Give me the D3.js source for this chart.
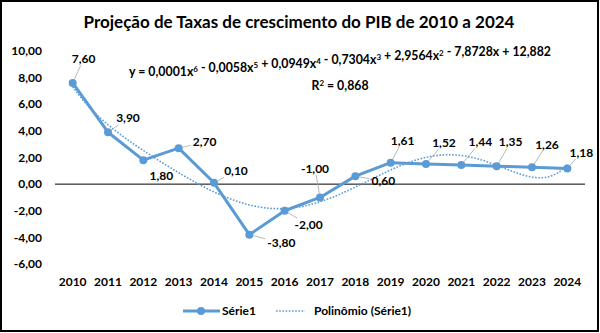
<!DOCTYPE html>
<html>
<head>
<meta charset="utf-8">
<script src="https://cdn.jsdelivr.net/npm/d3@7"></script>
<style>
  body { margin: 0; background: #fff; }
  svg { display: block; font-family: Lato, "Open Sans", sans-serif; font-weight: bold; }
</style>
</head>
<body>
<div id="chart"></div>
<script>
// growth rates per year
const years = ["2010", "2011", "2012", "2013", "2014", "2015", "2016", "2017",
  "2018", "2019", "2020", "2021", "2022", "2023", "2024"];
const values = [7.6, 3.9, 1.8, 2.7, 0.1, -3.8, -2.0, -1.0, 0.6, 1.61, 1.52, 1.44, 1.35, 1.26, 1.18];
const yTicks = [10, 8, 6, 4, 2, 0, -2, -4, -6];

const title = "Projeção de Taxas de crescimento do PIB de 2010 a 2024";
const seriesName = "Série1";
const trendName = "Polinômio (Série1)";
const trendDegree = 6;
// trendline equation as printed, [text, exponent]
const equationParts = [
  ["y = 0,0001x", "6"], [" - 0,0058x", "5"], [" + 0,0949x", "4"], [" - 0,7304x", "3"],
  [" + 2,9564x", "2"], [" - 7,8728x + 12,882", ""]
];
const rSquaredText = ["R", "2", " = 0,868"];

// where each value label sits relative to its point
const labelOffsets = [
  [11, -24], [20, -14], [18, 16], [26, -6], [22, -12], [32, 8], [24, 14], [-5, -29],
  [28, 5], [12, -22], [18, -21], [19, -23], [14, -24], [15, -23], [14, -16]
];
const noLeader = [2];

const W = 600, H = 333;
const margin = { top: 51, right: 15, bottom: 69, left: 55 };
const color = "#5B9BD5";

const pt = d3.formatLocale({ decimal: ",", thousands: ".", grouping: [3], currency: ["R$", ""], minus: "-" });
const fmt = pt.format(".2f");

const svg = d3.select("#chart").append("svg").attr("width", W).attr("height", H);

svg.append("rect")
  .attr("x", 1).attr("y", 1).attr("width", W - 3).attr("height", H - 3)
  .attr("fill", "#fff").attr("stroke", "#000").attr("stroke-width", 2);

svg.append("text")
  .attr("x", 299).attr("y", 28)
  .attr("text-anchor", "middle")
  .attr("font-size", 17)
  .attr("fill", "#000")
  .text(title);

const x = d3.scaleBand().domain(years).range([margin.left, W - margin.right]);
const y = d3.scaleLinear().domain([-6, 10]).range([H - margin.bottom, margin.top]);
const cx = (i) => x(years[i]) + x.bandwidth() / 2;

// y axis labels
svg.append("g").selectAll("text")
  .data(yTicks)
  .join("text")
  .attr("x", 42)
  .attr("y", (d) => y(d))
  .attr("dy", "0.35em")
  .attr("text-anchor", "end")
  .attr("font-size", 12)
  .text((d) => fmt(d));

// zero line
svg.append("line")
  .attr("x1", margin.left).attr("x2", W - margin.right)
  .attr("y1", y(0)).attr("y2", y(0))
  .attr("stroke", "#000").attr("stroke-width", 1);

// category labels
svg.append("g").selectAll("text")
  .data(years)
  .join("text")
  .attr("x", (d) => x(d) + x.bandwidth() / 2)
  .attr("y", 286)
  .attr("text-anchor", "middle")
  .attr("font-size", 12)
  .text((d) => d);

// least squares polynomial fit (x = 1..n, scaled for stability)
function polyFit(ys, deg) {
  const n = ys.length, mid = (n + 1) / 2, half = (n - 1) / 2;
  const M = d3.range(deg + 1).map(() => new Array(deg + 2).fill(0));
  ys.forEach((v, i) => {
    const t = (i + 1 - mid) / half;
    const pw = d3.range(deg + 1).map((k) => Math.pow(t, k));
    for (let r = 0; r <= deg; r++) {
      for (let c = 0; c <= deg; c++) M[r][c] += pw[r] * pw[c];
      M[r][deg + 1] += pw[r] * v;
    }
  });
  for (let c = 0; c <= deg; c++) {
    let p = c;
    for (let r = c + 1; r <= deg; r++) if (Math.abs(M[r][c]) > Math.abs(M[p][c])) p = r;
    [M[c], M[p]] = [M[p], M[c]];
    for (let r = 0; r <= deg; r++) {
      if (r === c) continue;
      const f = M[r][c] / M[c][c];
      for (let k = c; k <= deg + 1; k++) M[r][k] -= f * M[c][k];
    }
  }
  const coef = M.map((row, i) => row[deg + 1] / row[i]);
  return (xv) => {
    const t = (xv - mid) / half;
    return coef.reduce((s, a, k) => s + a * Math.pow(t, k), 0);
  };
}

const trend = polyFit(values, trendDegree);
const step = x.step();
const trendPts = d3.range(1, values.length + 0.001, 0.05).map((xv) => [
  cx(0) + (xv - 1) * step, y(trend(xv))
]);

svg.append("path")
  .datum(trendPts)
  .attr("d", d3.line().curve(d3.curveLinear))
  .attr("fill", "none")
  .attr("stroke", color)
  .attr("stroke-width", 1.6)
  .attr("stroke-dasharray", "1.6,1.6");

// main series
svg.append("path")
  .datum(values)
  .attr("d", d3.line().x((d, i) => cx(i)).y((d) => y(d)))
  .attr("fill", "none")
  .attr("stroke", color)
  .attr("stroke-width", 3)
  .attr("stroke-linejoin", "round");

svg.append("g").selectAll("circle")
  .data(values)
  .join("circle")
  .attr("cx", (d, i) => cx(i))
  .attr("cy", (d) => y(d))
  .attr("r", 4)
  .attr("fill", color);

// data labels with leader lines
const labels = svg.append("g");
values.forEach((v, i) => {
  const px = cx(i), py = y(v);
  const lx = px + labelOffsets[i][0], ly = py + labelOffsets[i][1];
  const txt = labels.append("text")
    .attr("x", lx).attr("y", ly)
    .attr("dy", "0.35em")
    .attr("text-anchor", "middle")
    .attr("font-size", 12)
    .text(fmt(v));
  if (noLeader.includes(i)) return;
  const bb = txt.node().getBBox();
  const hw = bb.width / 2 + 2, hh = bb.height / 2 - 1;
  const dx = px - lx, dy = py - ly;
  const s = Math.min(hw / Math.abs(dx || 1e-6), hh / Math.abs(dy || 1e-6));
  const ex = lx + dx * s, ey = ly + dy * s;
  const len = Math.hypot(ex - px, ey - py);
  if (len < 6) return;
  const sx = px + (ex - px) * 4 / len, sy = py + (ey - py) * 4 / len;
  labels.insert("line", "text")
    .attr("x1", sx).attr("y1", sy).attr("x2", ex).attr("y2", ey)
    .attr("stroke", "#a6a6a6").attr("stroke-width", 0.8);
});

// trendline equation
const eq = svg.append("text")
  .attr("x", 340).attr("y", 76)
  .attr("text-anchor", "middle")
  .attr("font-size", 12.3);
equationParts.forEach(([t, sup]) => {
  eq.append("tspan").text(t);
  if (sup) {
    eq.append("tspan").attr("font-size", 8).attr("dy", -4).text(sup);
    eq.append("tspan").attr("dy", 4).text("");
  }
});
const r2 = svg.append("text")
  .attr("x", 340).attr("y", 90)
  .attr("text-anchor", "middle")
  .attr("font-size", 12.3);
r2.append("tspan").text(rSquaredText[0]);
r2.append("tspan").attr("font-size", 8).attr("dy", -4).text(rSquaredText[1]);
r2.append("tspan").attr("dy", 4).text(rSquaredText[2]);

// legend
const lg = svg.append("g");
lg.append("line").attr("x1", 183).attr("x2", 220).attr("y1", 311).attr("y2", 311)
  .attr("stroke", color).attr("stroke-width", 3);
lg.append("circle").attr("cx", 201).attr("cy", 311).attr("r", 4).attr("fill", color);
lg.append("text").attr("x", 222).attr("y", 311).attr("dy", "0.35em")
  .attr("font-size", 12).text(seriesName);
lg.append("line").attr("x1", 276).attr("x2", 305).attr("y1", 311).attr("y2", 311)
  .attr("stroke", color).attr("stroke-width", 1.6).attr("stroke-dasharray", "1.6,1.6");
lg.append("text").attr("x", 314).attr("y", 311).attr("dy", "0.35em")
  .attr("font-size", 12).text(trendName);
</script>
</body>
</html>
